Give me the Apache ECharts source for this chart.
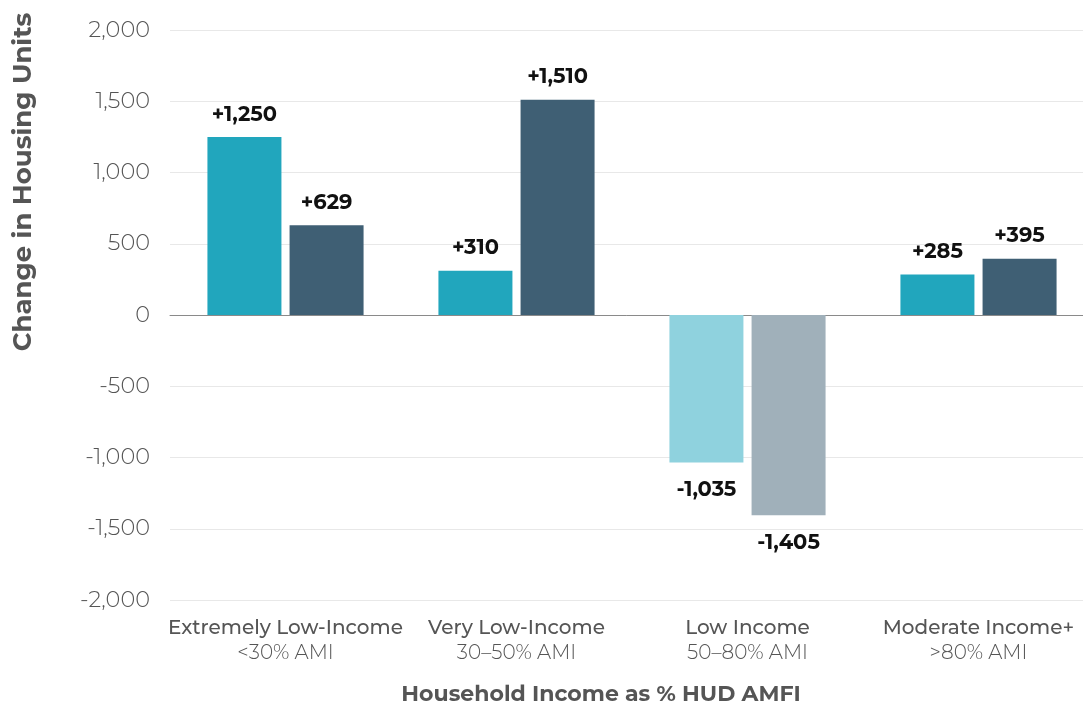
<!DOCTYPE html>
<html>
<head>
<meta charset="utf-8">
<script src="https://cdn.jsdelivr.net/npm/echarts@6/dist/echarts.min.js"></script>
<style>
  html, body { margin: 0; padding: 0; background: #fff; }
  #chart { width: 1083px; height: 709px; }
</style>
</head>
<body>
<div id="chart"></div>
<script>
// Income groups (name + AMI band) and the change in housing units per group
const categories = ['Extremely Low-Income', 'Very Low-Income', 'Low Income', 'Moderate Income+'];
const amiBands = ['<30% AMI', '30–50% AMI', '50–80% AMI', '>80% AMI'];
const seriesA = [1250, 310, -1035, 285];
const seriesB = [629, 1510, -1405, 395];
const yTicks = { min: -2000, max: 2000, interval: 500 };

const FONT = 'Montserrat, Inter, "Open Sans", sans-serif';
const TEAL = '#21a6bd';
const SLATE = '#3f5f74';
const TEAL_NEG = '#8fd2de';
const SLATE_NEG = '#a0b0ba';

function fmt(v) {
  const s = Math.abs(v).toLocaleString('en-US');
  return (v >= 0 ? '+' : '-') + s;
}

function buildData(values, pos, neg) {
  return values.map(v => ({
    value: v,
    itemStyle: { color: v >= 0 ? pos : neg },
    label: {
      position: v >= 0 ? 'top' : 'bottom',
      distance: v >= 0 ? 12 : 17
    }
  }));
}

const labelStyle = {
  show: true,
  formatter: p => fmt(p.value),
  color: '#111',
  fontFamily: FONT,
  fontWeight: 'bold',
  fontSize: 21
};

const chart = echarts.init(document.getElementById('chart'));
chart.setOption({
  animation: false,
  grid: { left: 170, right: -11, top: 30, bottom: 109, outerBoundsMode: 'none', containLabel: false },
  xAxis: {
    type: 'category',
    data: categories,
    axisLine: { onZero: true, lineStyle: { color: '#8a8a8a', width: 1 } },
    axisTick: { show: false },
    axisLabel: {
      margin: 16,
      interval: 0,
      formatter: (v, i) => '{a|' + v + '}\n{b|' + amiBands[i] + '}',
      rich: {
        a: { fontFamily: FONT, fontSize: 20, fontWeight: 500, color: '#555', lineHeight: 25 },
        b: { fontFamily: FONT, fontSize: 20, fontWeight: 300, color: '#555', lineHeight: 25 }
      }
    }
  },
  yAxis: {
    type: 'value',
    min: yTicks.min,
    max: yTicks.max,
    interval: yTicks.interval,
    axisLine: { show: false },
    axisTick: { show: false },
    splitLine: { lineStyle: { color: '#e8e8e8', width: 1 } },
    axisLabel: {
      margin: 20,
      color: '#555',
      fontFamily: FONT,
      fontSize: 22.5,
      fontWeight: 300,
      formatter: v => v.toLocaleString('en-US')
    }
  },
  series: [
    {
      type: 'bar',
      barWidth: 74,
      barGap: '11%',
      data: buildData(seriesA, TEAL, TEAL_NEG),
      label: labelStyle
    },
    {
      type: 'bar',
      barWidth: 74,
      barGap: '11%',
      data: buildData(seriesB, SLATE, SLATE_NEG),
      label: labelStyle
    }
  ],
  graphic: [
    {
      type: 'text',
      x: 23,
      y: 182,
      rotation: Math.PI / 2,
      style: {
        text: 'Change in Housing Units',
        font: 'bold 26px ' + FONT,
        fill: '#555',
        textAlign: 'center',
        textVerticalAlign: 'middle'
      }
    },
    {
      type: 'text',
      x: 601,
      y: 695,
      style: {
        text: 'Household Income as % HUD AMFI',
        font: 'bold 22px ' + FONT,
        fill: '#555',
        textAlign: 'center',
        textVerticalAlign: 'middle'
      }
    }
  ]
});
</script>
</body>
</html>
